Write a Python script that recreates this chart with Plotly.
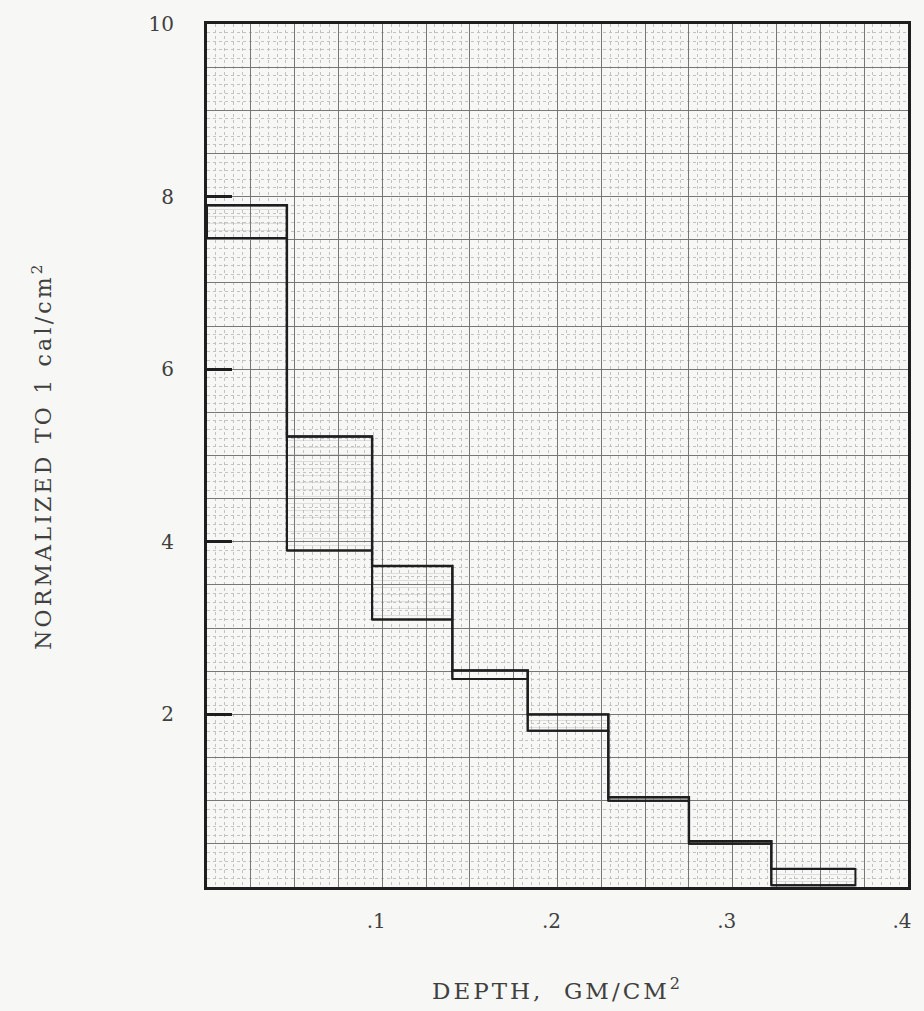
import plotly.graph_objects as go

# ---- data ----
bin_edges = [0.0, 0.0456, 0.0942, 0.140, 0.183, 0.229, 0.275, 0.322, 0.370]
upper = [7.90, 5.22, 3.72, 2.51, 2.00, 1.04, 0.53, 0.21]
lower = [7.52, 3.90, 3.10, 2.41, 1.81, 1.00, 0.50, 0.02]

x_tick_vals = [0.1, 0.2, 0.3, 0.4]
x_tick_text = [".1", ".2", ".3", ".4"]
y_tick_vals = [2, 4, 6, 8, 10]
y_tick_text = ["2", "4", "6", "8", "10"]

INK = "#1e1e1e"
GRID = "#777777"
MINOR = "#c2c2c2"
BG = "#f7f7f5"
TXT = "#404040"
FONT = "DejaVu Serif"

fig = go.Figure()

# invisible trace to anchor the base (grid) axes
fig.add_trace(go.Scatter(x=[0, 0.4], y=[0, 10], mode="markers",
                         marker=dict(opacity=0), hoverinfo="skip",
                         showlegend=False, xaxis="x", yaxis="y"))

# per-bin bands between lower and upper
for i in range(len(upper)):
    x0, x1 = bin_edges[i], bin_edges[i + 1]
    fig.add_trace(go.Scatter(
        x=[x0, x1, x1, x0, x0],
        y=[lower[i], lower[i], upper[i], upper[i], lower[i]],
        mode="lines", fill="toself",
        fillcolor="rgba(0,0,0,0)",
        fillpattern=dict(shape="-", size=7, solidity=0.08,
                         fgcolor="#9a9a9a", bgcolor="rgba(0,0,0,0)"),
        line=dict(color=INK, width=2),
        showlegend=False, hoverinfo="skip",
        xaxis="x2", yaxis="y2"))

# upper and lower step outlines
fig.add_trace(go.Scatter(x=bin_edges, y=upper + [upper[-1]], mode="lines",
                         line=dict(color=INK, width=2.4, shape="hv"),
                         showlegend=False, xaxis="x2", yaxis="y2"))
fig.add_trace(go.Scatter(x=bin_edges, y=lower + [lower[-1]], mode="lines",
                         line=dict(color=INK, width=2, shape="hv"),
                         showlegend=False, xaxis="x2", yaxis="y2"))

fig.update_layout(
    width=924, height=1011,
    margin=dict(l=207, r=16, t=14, b=123),
    paper_bgcolor=BG, plot_bgcolor=BG,
    font=dict(family=FONT, color=TXT, size=19),
    showlegend=False,
    xaxis=dict(range=[0, 0.4], dtick=0.025, tick0=0,
               showgrid=True, gridcolor=GRID, gridwidth=1,
               showticklabels=False, ticks="", zeroline=False,
               showline=True, linecolor=INK, linewidth=2.5, mirror=True,
               minor=dict(dtick=0.005, tick0=0, showgrid=True,
                          gridcolor=MINOR, gridwidth=1, griddash="dot",
                          ticks="")),
    yaxis=dict(range=[0, 10], dtick=0.5, tick0=0,
               showgrid=True, gridcolor=GRID, gridwidth=1,
               showticklabels=False, ticks="", zeroline=False,
               showline=True, linecolor=INK, linewidth=3, mirror=True,
               minor=dict(dtick=0.1, tick0=0, showgrid=True,
                          gridcolor=MINOR, gridwidth=1, griddash="dot",
                          ticks="")),
    xaxis2=dict(overlaying="x", anchor="y2", side="bottom",
                range=[0, 0.4], tickmode="array",
                tickvals=x_tick_vals, ticktext=x_tick_text,
                showgrid=False, zeroline=False, ticks="",
                ticklabelstandoff=20, ticklabelshift=-6,
                tickfont=dict(family=FONT, size=20, color=TXT),
                title=dict(text="DEPTH,  GM/CM<sup>2</sup>",
                           font=dict(family=FONT, size=23, color=TXT),
                           standoff=50)),
    yaxis2=dict(overlaying="y", anchor="x2", side="left",
                range=[0, 10], tickmode="array",
                tickvals=y_tick_vals, ticktext=y_tick_text,
                showgrid=False, zeroline=False,
                ticks="inside", ticklen=25, tickwidth=2.5, tickcolor=INK,
                ticklabelstandoff=32,
                tickfont=dict(family=FONT, size=20, color=TXT),
                title=dict(text="NORMALIZED TO 1 cal/cm<sup>2</sup>",
                           font=dict(family=FONT, size=22, color=TXT),
                           standoff=90)),
)

post = (
    "document.body.style.margin='0';"
    "document.body.style.padding='0';"
    "document.body.style.background='%s';"
    "document.querySelectorAll('text.x2title').forEach(function(t){t.style.letterSpacing='3px';});"
    "document.querySelectorAll('text.y2title').forEach(function(t){t.style.letterSpacing='3.2px';});"
) % BG

fig.write_html("out.html", config={"displayModeBar": False}, post_script=post)
